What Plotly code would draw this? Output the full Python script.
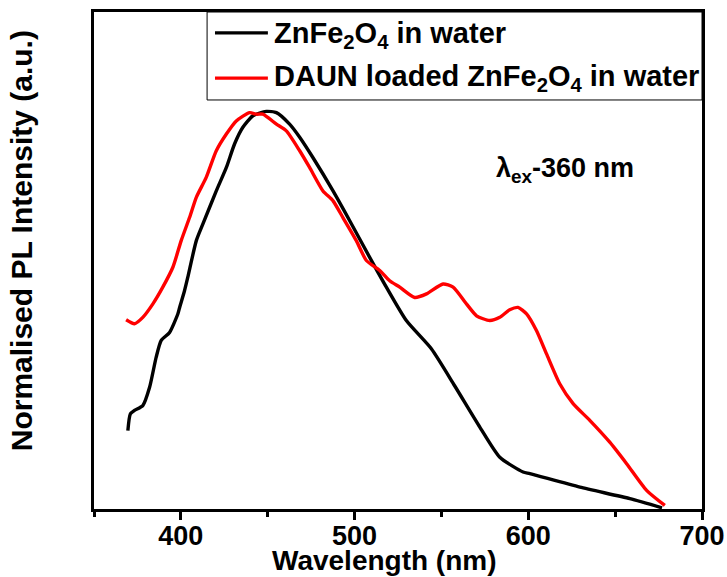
import plotly.graph_objects as go

# Emission wavelength (nm) and normalised PL intensity
wl_bare = [369.5, 370.9, 373.3, 378.1, 382.0, 385.8, 388.7, 393.5, 398.3, 399.3, 402.1,
           404.0, 408.9, 412.7, 420.4, 426.2, 430.9, 435.7, 441.5, 449.2, 455.0,
           462.6, 468.4, 476.0, 487.6, 497.2, 508.7, 518.3, 529.8, 544.2, 557.6,
           572.1, 583.6, 597.0, 600.9, 629.7, 658.5, 677.0]
pl_bare = [0.197, 0.239, 0.248, 0.260, 0.306, 0.382, 0.424, 0.444, 0.491, 0.507, 0.549,
           0.583, 0.675, 0.717, 0.800, 0.859, 0.918, 0.960, 0.989, 1.000, 0.997,
           0.968, 0.935, 0.884, 0.800, 0.725, 0.633, 0.558, 0.474, 0.403, 0.310,
           0.206, 0.130, 0.093, 0.089, 0.055, 0.026, 0.003]

wl_daun = [368.5, 373.3, 378.1, 383.9, 389.6, 395.4, 400.2, 405.0, 408.9, 414.6,
           420.4, 426.2, 431.9, 439.6, 443.4, 447.2, 455.0, 460.7, 468.4, 474.1,
           481.8, 487.6, 493.3, 501.0, 506.8, 514.5, 520.2, 526.0, 534.6, 541.4,
           550.9, 556.7, 564.4, 570.2, 577.8, 583.6, 589.3, 594.1, 599.0, 604.7,
           610.5, 618.1, 625.8, 635.4, 646.9, 656.6, 668.1, 678.6]
pl_daun = [0.476, 0.466, 0.482, 0.516, 0.558, 0.608, 0.675, 0.733, 0.784, 0.834,
           0.901, 0.943, 0.976, 0.997, 0.993, 0.993, 0.968, 0.951, 0.901, 0.859,
           0.800, 0.775, 0.733, 0.675, 0.625, 0.600, 0.574, 0.558, 0.532, 0.541,
           0.566, 0.558, 0.516, 0.486, 0.474, 0.482, 0.501, 0.507, 0.491, 0.449,
           0.390, 0.315, 0.265, 0.223, 0.168, 0.114, 0.047, 0.009]

series_names = ["<b>ZnFe<sub>2</sub>O<sub>4</sub> in water</b>",
                "<b>DAUN loaded ZnFe<sub>2</sub>O<sub>4</sub> in water</b>"]
series_colors = ["#000000", "#ff0000"]

x_title = "<b>Wavelength (nm)</b>"
y_title = "<b>Normalised PL Intensity (a.u.)</b>"
excitation_label = "<b>λ<sub>ex</sub>-360 nm</b>"

FONT = "Liberation Sans, Arial, sans-serif"

fig = go.Figure()
series = [(wl_bare, pl_bare), (wl_daun, pl_daun)]
for i, (x, y) in enumerate(series):
    fig.add_trace(go.Scatter(
        x=x, y=y, mode="lines", name=series_names[i], showlegend=False,
        line=dict(color=series_colors[i], width=3.4, shape="spline", smoothing=0.6),
    ))

# legend box drawn in plot-fraction coordinates: frame, key lines, labels
LEG_X0, LEG_X1, LEG_Y0, LEG_Y1 = 0.186, 1.0, 0.823, 1.0
KEY_X0, KEY_X1, TEXT_X = 0.199, 0.286, 0.293
KEY_Y = [0.958, 0.867]
TEXT_Y = [0.954, 0.867]

fig.add_shape(type="rect", xref="paper", yref="paper",
              x0=LEG_X0, x1=LEG_X1, y0=LEG_Y0, y1=LEG_Y1,
              line=dict(color="#000", width=1), fillcolor="rgba(0,0,0,0)", layer="above")
for i in range(len(series)):
    fig.add_shape(type="line", xref="paper", yref="paper",
                  x0=KEY_X0, x1=KEY_X1, y0=KEY_Y[i], y1=KEY_Y[i],
                  line=dict(color=series_colors[i], width=3.4))
    fig.add_annotation(x=TEXT_X, y=TEXT_Y[i], xref="paper", yref="paper",
                       xanchor="left", yanchor="middle", showarrow=False,
                       text=series_names[i],
                       font=dict(family=FONT, size=29, color="#000"))

fig.add_annotation(
    x=621, y=0.852, xref="x", yref="y", showarrow=False,
    text=excitation_label,
    font=dict(family=FONT, size=27, color="#000"),
)

# axis titles
fig.add_annotation(
    x=0.477, y=-0.103, xref="paper", yref="paper", showarrow=False,
    xanchor="center", yanchor="middle", text=x_title,
    font=dict(family=FONT, size=28, color="#000"),
)
fig.add_annotation(
    x=-0.119, y=0.54, xref="paper", yref="paper", showarrow=False,
    xanchor="center", yanchor="middle", textangle=-90, text=y_title,
    font=dict(family=FONT, size=30, color="#000"),
)

fig.update_layout(
    width=727, height=577,
    margin=dict(l=94, r=25, t=12, b=68),
    paper_bgcolor="white", plot_bgcolor="white",
    font=dict(family=FONT, color="#000"),
    showlegend=False,
)

fig.update_xaxes(
    range=[350, 700], dtick=100, tick0=400,
    showline=True, linecolor="#000", linewidth=3, mirror=True,
    ticks="outside", ticklen=8, tickwidth=2.5, tickcolor="#000",
    minor=dict(dtick=50, tick0=350, ticks="outside", ticklen=5, tickwidth=2.5, tickcolor="#000"),
    showgrid=False, zeroline=False, automargin=False,
    ticklabelstandoff=-7,
    tickfont=dict(family=FONT, size=27, color="#000", weight="bold"),
)
fig.update_yaxes(
    range=[0, 1.25],
    showline=True, linecolor="#000", linewidth=3, mirror=True,
    showticklabels=False, ticks="", showgrid=False, zeroline=False, automargin=False,
)

fig.write_html("out.html")
